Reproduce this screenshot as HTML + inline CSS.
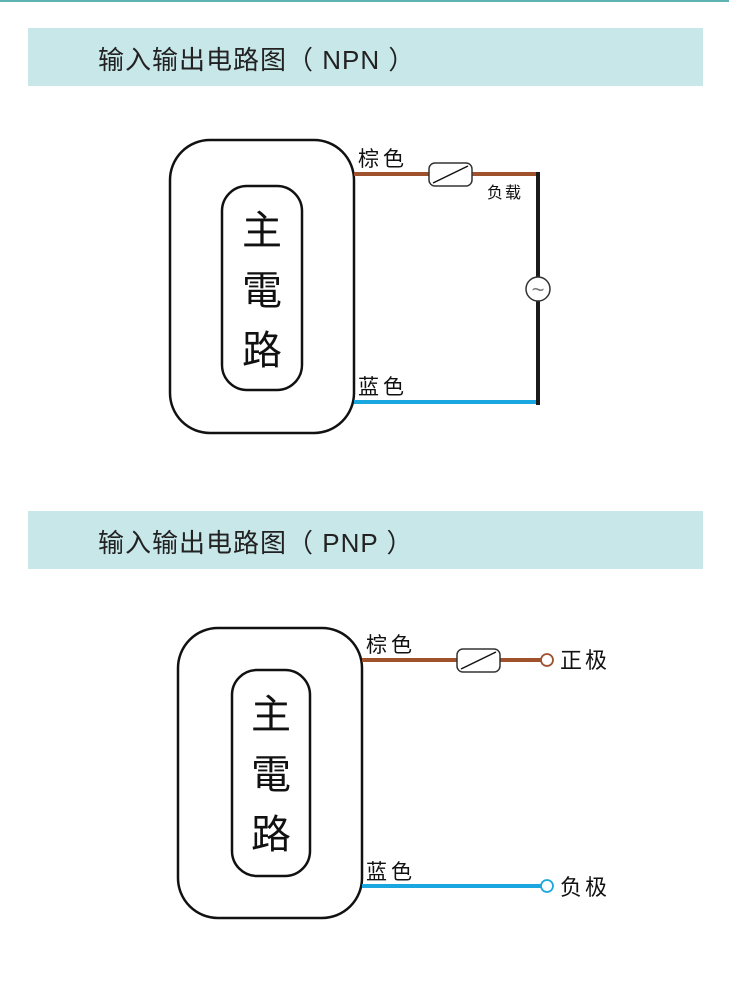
<!DOCTYPE html>
<html><head><meta charset="utf-8"><style>
html,body{margin:0;padding:0;background:#fff;}
body{width:729px;height:1006px;position:relative;overflow:hidden;font-family:"Liberation Sans","Noto Sans CJK SC",sans-serif;}
.top{position:absolute;left:0;top:0;width:729px;height:2px;background:#5fb3b3;}
.ban{position:absolute;left:28px;width:675px;height:58px;background:#c8e7e9;}
.ban span{position:absolute;left:70px;top:12px;font-size:26px;color:#222;letter-spacing:1px;white-space:pre;}
</style></head><body>
<div class="top"></div>
<div class="ban" style="top:28px"><span>输入输出电路图（ NPN ）</span></div>
<div class="ban" style="top:511px"><span>输入输出电路图（ PNP ）</span></div>
<svg width="729" height="1006" style="position:absolute;left:0;top:0" font-family="Liberation Sans, Noto Sans CJK SC, sans-serif">
<!-- NPN -->
<rect x="170" y="140" width="184" height="293" rx="40" fill="none" stroke="#111" stroke-width="2.5"/>
<rect x="222" y="186" width="80" height="204" rx="25" fill="none" stroke="#111" stroke-width="2.5"/>
<g font-size="40" fill="#111" text-anchor="middle"><text x="262" y="244">主</text><text x="262" y="304">電</text><text x="262" y="364">路</text></g>
<line x1="354" y1="174" x2="538" y2="174" stroke="#a0522d" stroke-width="4"/>
<line x1="354" y1="402" x2="538" y2="402" stroke="#1aa7e0" stroke-width="4"/>
<line x1="538" y1="172" x2="538" y2="405" stroke="#1a1a1a" stroke-width="4"/>
<rect x="429" y="163" width="43" height="23" rx="6" fill="#fff" stroke="#333" stroke-width="1.5"/>
<line x1="433" y1="183" x2="468" y2="166" stroke="#111" stroke-width="1.5"/>
<circle cx="538" cy="289" r="12" fill="#fff" stroke="#333" stroke-width="1.5"/>
<text x="538" y="297" font-size="22" fill="#777" text-anchor="middle">~</text>
<text x="358" y="166" font-size="21" fill="#111" letter-spacing="4">棕色</text>
<text x="358" y="394" font-size="21" fill="#111" letter-spacing="4">蓝色</text>
<text x="487" y="198" font-size="16" fill="#111" letter-spacing="2">负载</text>
<!-- PNP -->
<rect x="178" y="628" width="184" height="290" rx="40" fill="none" stroke="#111" stroke-width="2.5"/>
<rect x="232" y="670" width="78" height="206" rx="25" fill="none" stroke="#111" stroke-width="2.5"/>
<g font-size="40" fill="#111" text-anchor="middle"><text x="271" y="728">主</text><text x="271" y="788">電</text><text x="271" y="848">路</text></g>
<line x1="362" y1="660" x2="541" y2="660" stroke="#a0522d" stroke-width="4"/>
<line x1="362" y1="886" x2="541" y2="886" stroke="#1aa7e0" stroke-width="4"/>
<rect x="457" y="649" width="43" height="23" rx="6" fill="#fff" stroke="#333" stroke-width="1.5"/>
<line x1="461" y1="669" x2="496" y2="652" stroke="#111" stroke-width="1.5"/>
<circle cx="547" cy="660" r="6" fill="#fff" stroke="#a0522d" stroke-width="1.8"/>
<circle cx="547" cy="886" r="6" fill="#fff" stroke="#1aa7e0" stroke-width="1.8"/>
<text x="366" y="652" font-size="21" fill="#111" letter-spacing="4">棕色</text>
<text x="366" y="879" font-size="21" fill="#111" letter-spacing="4">蓝色</text>
<text x="560" y="668" font-size="22" fill="#111" letter-spacing="3">正极</text>
<text x="560" y="895" font-size="22" fill="#111" letter-spacing="3">负极</text>
</svg>
</body></html>
